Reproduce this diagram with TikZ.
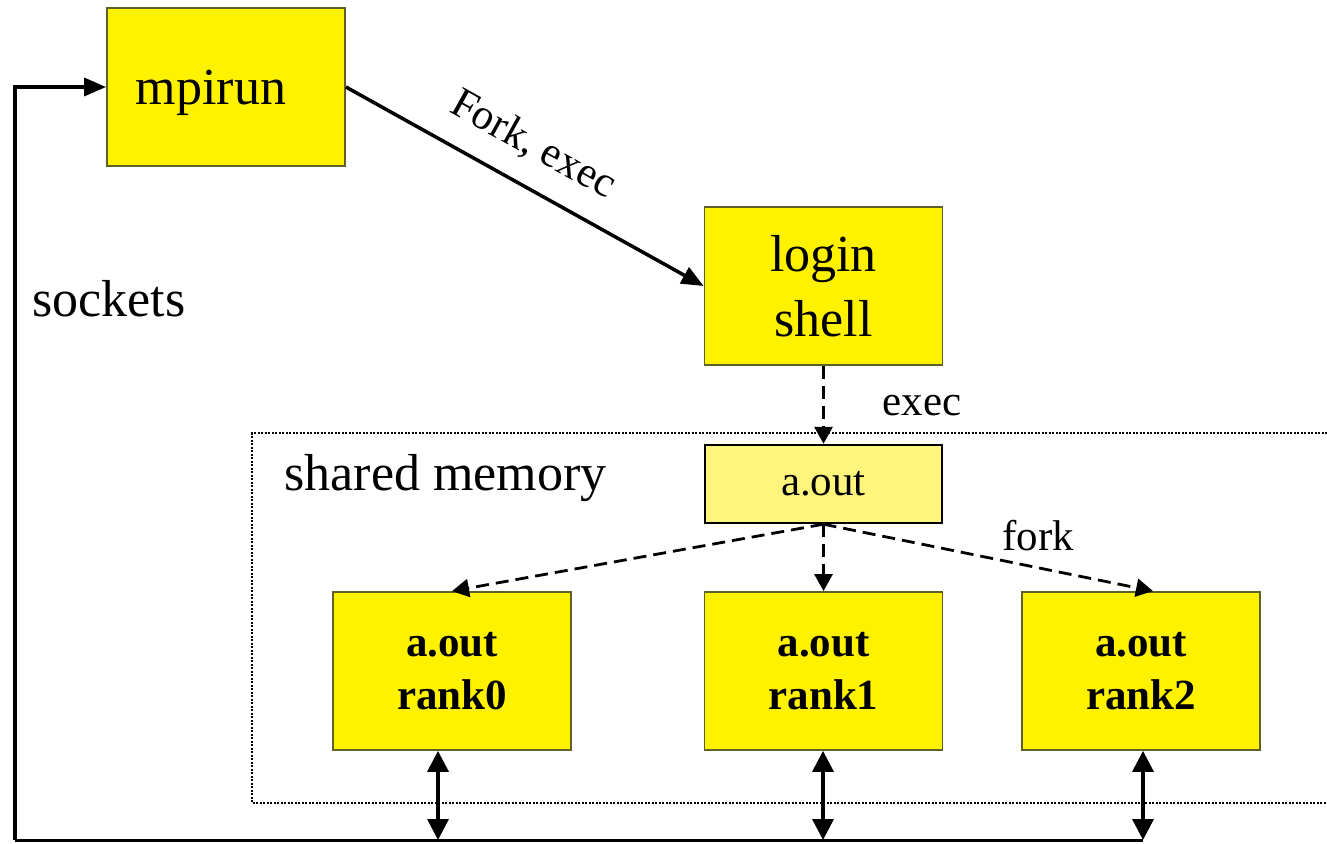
\documentclass[tikz,border=0pt]{standalone}
\usepackage{fontspec}
\setmainfont{Liberation Serif}
\usetikzlibrary{arrows.meta}
\definecolor{boxedge}{RGB}{95,95,40}
\definecolor{paleyellow}{RGB}{255,245,125}
\begin{document}
\begin{tikzpicture}[x=1pt,y=-1pt,
  box/.style={draw=boxedge, line width=1.8pt, fill=yellow, minimum width=238pt,
    minimum height=158pt, inner sep=0pt, align=center},
  big/.style={font=\fontsize{52}{65}\selectfont},
  mid/.style={font=\fontsize{43}{53}\selectfont},
  midbold/.style={font=\fontsize{43}{53}\selectfont\bfseries},
  solidarrow/.style={line width=3.5pt, -{Triangle[length=22pt,width=18pt]}},
  dasharrow/.style={line width=2.8pt, dash pattern=on 13pt off 7pt,
    -{Triangle[length=17pt,width=18pt]}},
  busarrow/.style={line width=3.5pt, {Triangle[length=21pt,width=21pt]}-{Triangle[length=21pt,width=21pt]}},
  wire/.style={line width=3pt},
  region/.style={line width=2.4pt, dash pattern=on 2pt off 1.5pt}
]
\useasboundingbox (0,0) rectangle (1327,843);

% process boxes
\node[box] (mpirun) at (226,87) {};
\node[big, anchor=base] (mpirunlbl) at (211,104) {mpirun};
\node[box, big] (login) at (823.5,286) {login\\shell};
\node[box, draw=black, line width=2.4pt, fill=paleyellow, minimum width=237pt,
  minimum height=78pt, mid] (aout) at (823.5,484) {a.out};
\node[box, midbold] (rank0) at (452,671) {a.out\\rank0};
\node[box, midbold] (rank1) at (823.5,671) {a.out\\rank1};
\node[box, midbold] (rank2) at (1141,671) {a.out\\rank2};

% shared memory region (open on the right)
\coordinate (shmtr) at (1327,433);
\coordinate (shmtl) at (252,433);
\coordinate (shmbl) at (252,803);
\coordinate (shmbr) at (1327,803);
\draw[region] (shmtr) -- (shmtl) -- (shmbl) -- (shmbr);
\node[big, anchor=base west] (shmlbl) at (281,490) {shared memory};

% launch path
\draw[solidarrow] (mpirun.east) -- (login.west);
\node[mid, rotate=-29] (forklbl) at (533,145) {Fork, exec};
\draw[dasharrow] (login.south) -- (aout.north);
\node[mid, anchor=base west] (execlbl) at (879,415) {exec};
\draw[dasharrow] (aout.south) -- (rank0.north);
\draw[dasharrow] (aout.south) -- (rank1.north);
\draw[dasharrow] (aout.south) -- ([xshift=12pt]rank2.north);
\node[mid, anchor=base west] (forkonly) at (999,550) {fork};

% socket bus
\coordinate (bus) at (15,840);
\coordinate (bus0) at (438,840);
\coordinate (bus1) at (823,840);
\coordinate (bus2) at (1143,840);
\draw[wire] (bus) -- (bus2);
\draw[solidarrow] (bus) |- (mpirun.west);
\node[big, anchor=base west] (socklbl) at (29,316) {sockets};
\draw[busarrow] (bus0 |- rank0.south) -- (bus0);
\draw[busarrow] (bus1 |- rank1.south) -- (bus1);
\draw[busarrow] (bus2 |- rank2.south) -- (bus2);
\end{tikzpicture}
\end{document}
